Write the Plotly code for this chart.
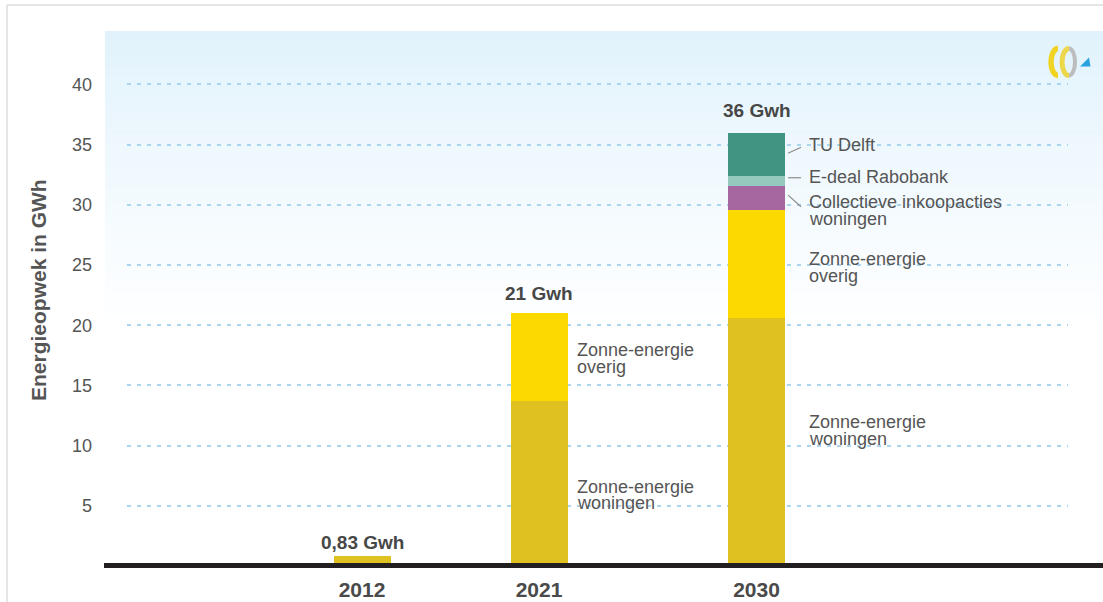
import plotly.graph_objects as go

# ---- data -------------------------------------------------------------
years = ["2012", "2021", "2030"]
zon_woningen = [0.83, 13.7, 20.6]
zon_overig = [0.0, 7.3, 9.0]
collectief = [0.0, 0.0, 2.0]
edeal_rabobank = [0.0, 0.0, 0.8]
tu_delft = [0.0, 0.0, 3.6]
total_labels = ["0,83 Gwh", "21 Gwh", "36 Gwh"]
y_ticks = [5, 10, 15, 20, 25, 30, 35, 40]

# ---- layout geometry -------------------------------------------------
W, H = 1103, 602
L, R, T, B = 127, 1068, 31, 566          # plot area in pixels
slots = [0.0, 1.0, 2.229]                # horizontal slot of each year
bar_w = 0.322
x_range = [-1.3277, 3.9887]
y_range = [0, 44.44]

FONT = "Liberation Sans, Arial, sans-serif"
TXT = "#555555"


def px_x(px):
    return (px - L) / (R - L)


def px_y(py):
    return (B - py) / (B - T)


series = [
    ("Zonne-energie woningen", zon_woningen, "#dfc122"),
    ("Zonne-energie overig", zon_overig, "#fcd900"),
    ("Collectieve inkoopacties woningen", collectief, "#a667a1"),
    ("E-deal Rabobank", edeal_rabobank, "#95c9bd"),
    ("TU Delft", tu_delft, "#3f9580"),
]

fig = go.Figure()
for name, vals, col in series:
    fig.add_trace(go.Bar(
        x=slots, y=vals, name=name, width=bar_w,
        marker=dict(color=col, line=dict(width=0)),
        hoverinfo="name+y",
    ))

totals = [sum(v) for v in zip(*[s[1] for s in series])]

shapes = []

# soft blue gradient behind the plot, fading to white
top_rgb = (224, 242, 252)
g_top, g_bot = 31, 330
n_bands = 40
for i in range(n_bands):
    y0 = g_top + (g_bot - g_top) * i / n_bands
    y1 = g_top + (g_bot - g_top) * (i + 1) / n_bands + 0.6
    t = (i + 0.5) / n_bands
    t = t ** 0.85
    c = tuple(int(round(a + (255 - a) * t)) for a in top_rgb)
    shapes.append(dict(
        type="rect", xref="paper", yref="paper", layer="below",
        x0=px_x(105), x1=px_x(1110), y0=px_y(y1), y1=px_y(y0),
        fillcolor=f"rgb{c}", line=dict(width=0),
    ))

# outer frame
shapes.append(dict(type="line", xref="paper", yref="paper",
                   x0=px_x(7), x1=px_x(7), y0=px_y(5), y1=px_y(610),
                   line=dict(color="#dddddd", width=1.5)))
shapes.append(dict(type="line", xref="paper", yref="paper",
                   x0=px_x(7), x1=px_x(1110), y0=px_y(5), y1=px_y(5),
                   line=dict(color="#dddddd", width=1.5)))

# heavy baseline
shapes.append(dict(type="line", xref="paper", yref="paper",
                   x0=px_x(104), x1=px_x(1110), y0=px_y(565.5), y1=px_y(565.5),
                   line=dict(color="#231f20", width=5)))

# leader lines for the 2030 stack
edge = slots[2] + bar_w / 2
for (dx0, y0, dx1, y1) in [(3, 34.28, 16, 34.78),
                           (3, 32.25, 16, 32.25),
                           (3, 30.81, 16, 29.84)]:
    shapes.append(dict(type="line", xref="x", yref="y",
                       x0=edge + dx0 / 177, x1=edge + dx1 / 177, y0=y0, y1=y1,
                       line=dict(color="#8c8c8c", width=1.2)))


# small logo in the corner
def half_ellipse(cx, cy, rx, ry, side):
    k = 0.5523
    s = -1 if side == "left" else 1
    pts = [(cx, cy - ry),
           (cx + s * k * rx, cy - ry), (cx + s * rx, cy - k * ry), (cx + s * rx, cy),
           (cx + s * rx, cy + k * ry), (cx + s * k * rx, cy + ry), (cx, cy + ry)]
    p = [(px_x(a), px_y(b)) for a, b in pts]
    return (f"M {p[0][0]},{p[0][1]} C {p[1][0]},{p[1][1]} {p[2][0]},{p[2][1]} {p[3][0]},{p[3][1]} "
            f"C {p[4][0]},{p[4][1]} {p[5][0]},{p[5][1]} {p[6][0]},{p[6][1]}")


shapes.append(dict(type="path", xref="paper", yref="paper",
                   path=half_ellipse(1058, 62, 7, 13.5, "left"),
                   line=dict(color="#f0d424", width=5.5)))
shapes.append(dict(type="path", xref="paper", yref="paper",
                   path=half_ellipse(1069, 62, 6, 13.5, "right"),
                   line=dict(color="#bdbdbd", width=4)))
shapes.append(dict(type="path", xref="paper", yref="paper",
                   path=half_ellipse(1069, 62, 7, 13.5, "left"),
                   line=dict(color="#ecd84a", width=5)))
tri = [(1080, 66.5), (1090.5, 66.5), (1089, 57.5)]
tp = [(px_x(a), px_y(b)) for a, b in tri]
shapes.append(dict(type="path", xref="paper", yref="paper",
                   path=f"M {tp[0][0]},{tp[0][1]} L {tp[1][0]},{tp[1][1]} L {tp[2][0]},{tp[2][1]} Z",
                   fillcolor="#2aa2e0", line=dict(width=0)))

annotations = []

# totals above each bar
total_shift = [1, 7, 10]
for xs, tot, lab, sh in zip(slots, totals, total_labels, total_shift):
    annotations.append(dict(
        x=xs, y=tot, xref="x", yref="y", text=f"<b>{lab}</b>",
        showarrow=False, yanchor="bottom", xanchor="center", yshift=sh,
        font=dict(family=FONT, size=19, color="#474747"),
    ))

# segment labels, one annotation per line of text
seg_lines = [
    (1, 7, "Zonne-energie", 17.94), (1, 7, "overig", 16.53),
    (1, 7, "Zonne-energie", 6.59), (1, 7, "woningen", 5.26),
    (2, 22, "TU Delft", 34.97),
    (2, 22, "E-deal Rabobank", 32.28),
    (2, 22, "Collectieve inkoopacties", 30.26), (2, 22, "woningen", 28.80),
    (2, 22, "Zonne-energie", 25.50), (2, 22, "overig", 24.11),
    (2, 22, "Zonne-energie", 11.99), (2, 22, "woningen", 10.52),
]
for idx, gap, txt, yv in seg_lines:
    annotations.append(dict(
        x=slots[idx] + bar_w / 2, y=yv, xref="x", yref="y", text=txt,
        showarrow=False, xanchor="left", yanchor="middle", xshift=gap,
        font=dict(family=FONT, size=18, color=TXT),
    ))

# y-axis title
annotations.append(dict(
    x=px_x(38), y=px_y(290), xref="paper", yref="paper",
    text="<b>Energieopwek in GWh</b>", textangle=-90, showarrow=False,
    xanchor="center", yanchor="middle",
    font=dict(family=FONT, size=21, color=TXT),
))

fig.update_layout(
    width=W, height=H,
    margin=dict(l=L, r=W - R, t=T, b=H - B, autoexpand=False),
    paper_bgcolor="white", plot_bgcolor="rgba(0,0,0,0)",
    barmode="stack", bargap=0, showlegend=False,
    shapes=shapes, annotations=annotations,
    font=dict(family=FONT, color=TXT),
    xaxis=dict(
        range=x_range, tickvals=slots, ticktext=years,
        tickfont=dict(family=FONT, size=21, color="#4a4a4a", weight="bold"),
        showgrid=False, zeroline=False, showline=False, ticks="",
        ticklabelstandoff=9, fixedrange=True, automargin=False,
    ),
    yaxis=dict(
        range=y_range, tickvals=y_ticks, ticktext=[str(v) for v in y_ticks],
        tickfont=dict(family=FONT, size=18, color=TXT),
        showgrid=True, gridcolor="#a9d5f1", gridwidth=1.5, griddash="4px,6px",
        zeroline=False, showline=False, ticks="", ticklabelstandoff=34,
        fixedrange=True, automargin=False,
    ),
)

fig.write_html("out.html")
